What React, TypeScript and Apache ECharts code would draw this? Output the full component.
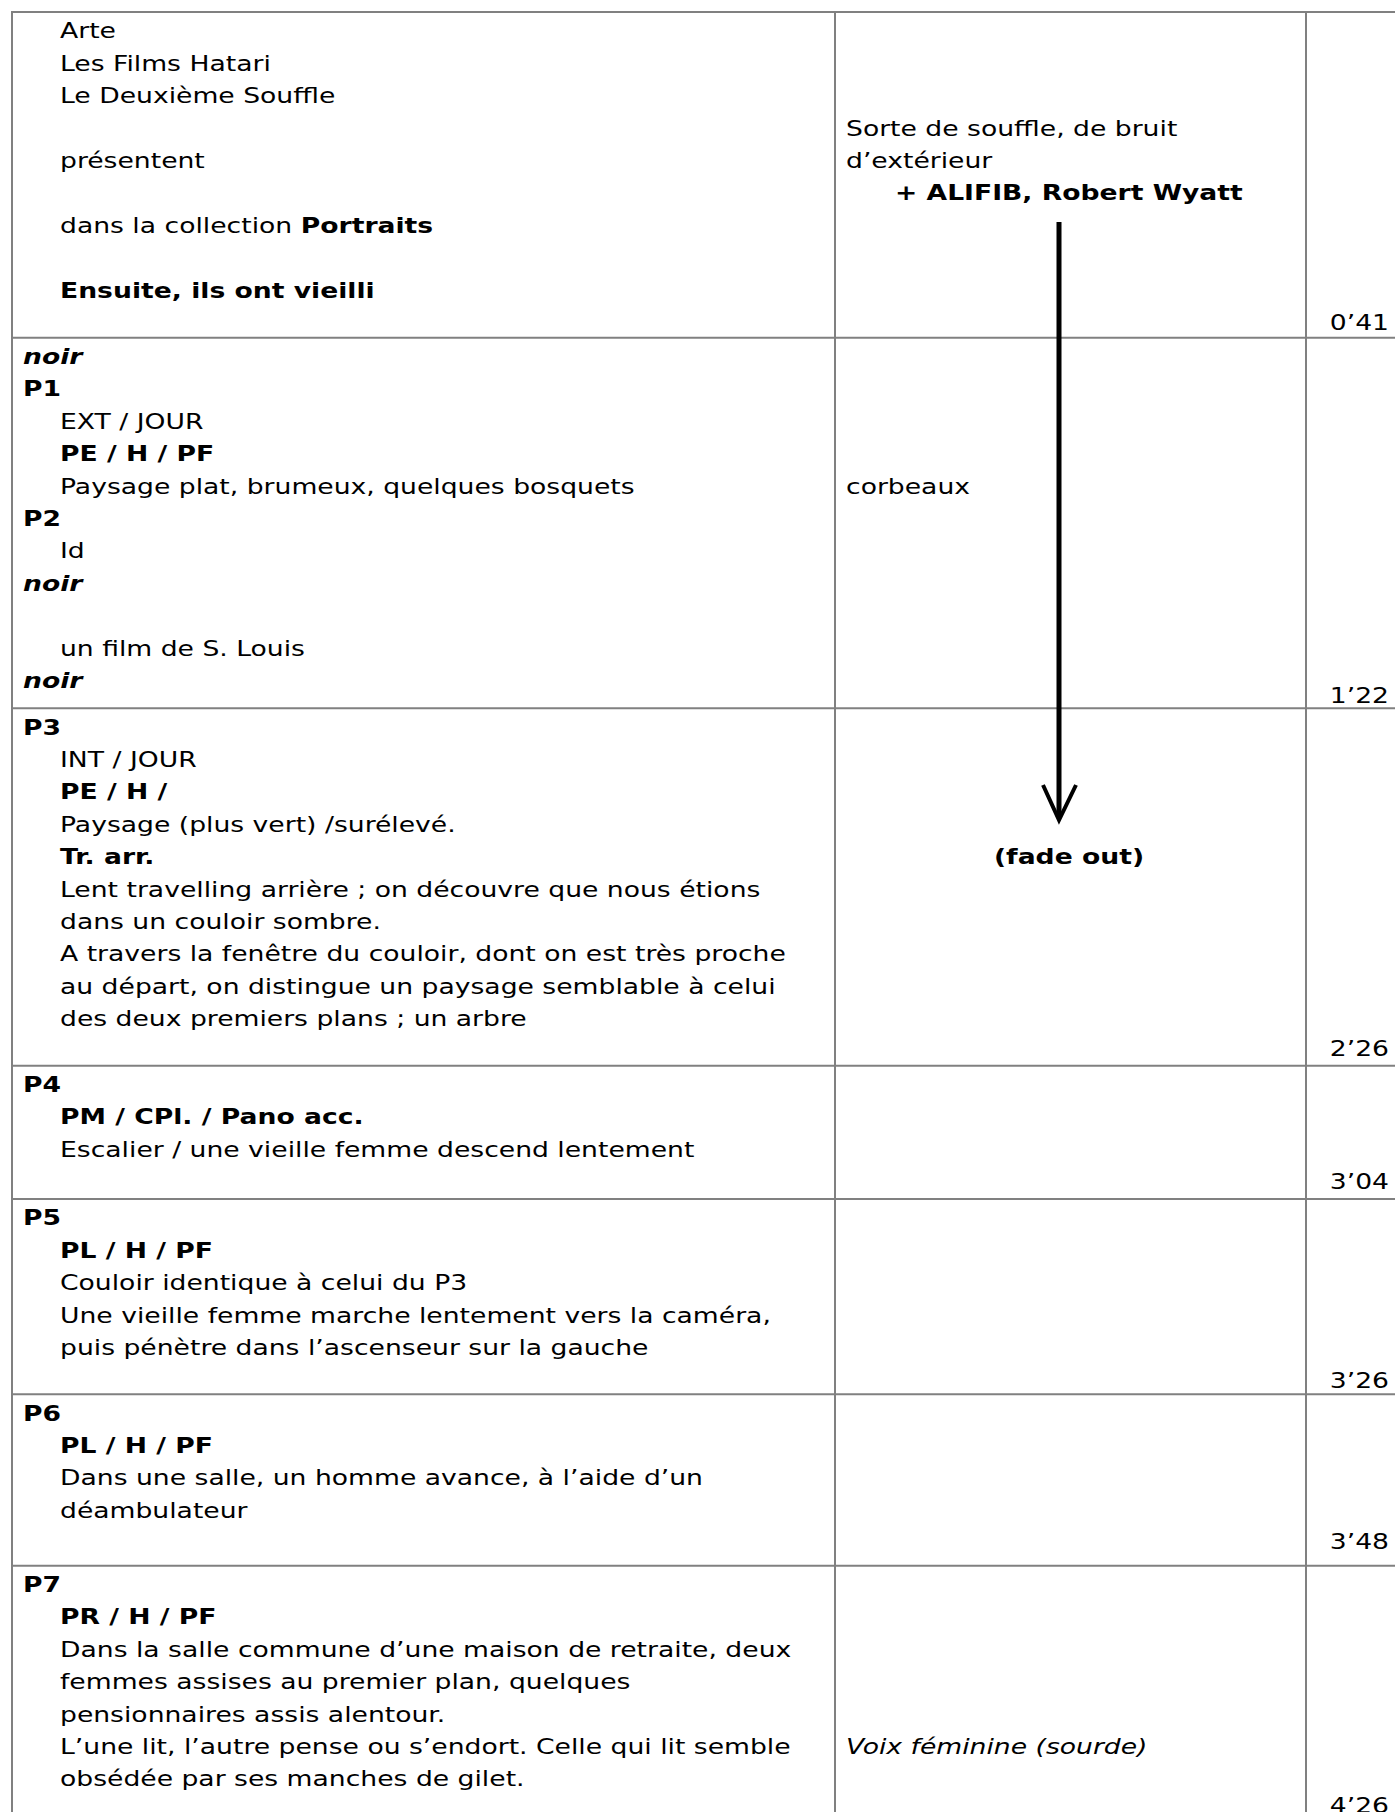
import React, { useEffect, useRef } from "react";
import * as echarts from "echarts";

// ---------- DATA ----------
// column 1 lines per row: [text, indented(1/0), style]
const row0Desc: [string, number, string][] = [
  ["Arte", 1, "n"],
  ["Les Films Hatari", 1, "n"],
  ["Le Deuxième Souffle", 1, "n"],
  ["", 1, "n"],
  ["présentent", 1, "n"],
  ["", 1, "n"],
  ["dans la collection {b|Portraits}", 1, "n"],
  ["", 1, "n"],
  ["Ensuite, ils ont vieilli", 1, "b"],
];
const row1Desc: [string, number, string][] = [
  ["noir", 0, "bi"],
  ["P1", 0, "b"],
  ["EXT / JOUR", 1, "n"],
  ["PE / H / PF", 1, "b"],
  ["Paysage plat, brumeux, quelques bosquets", 1, "n"],
  ["P2", 0, "b"],
  ["Id", 1, "n"],
  ["noir", 0, "bi"],
  ["", 0, "n"],
  ["un film de S. Louis", 1, "n"],
  ["noir", 0, "bi"],
];
const row2Desc: [string, number, string][] = [
  ["P3", 0, "b"],
  ["INT / JOUR", 1, "n"],
  ["PE / H /", 1, "b"],
  ["Paysage (plus vert) /surélevé.", 1, "n"],
  ["Tr. arr.", 1, "b"],
  ["Lent travelling arrière ; on découvre que nous étions", 1, "n"],
  ["dans un couloir sombre.", 1, "n"],
  ["A travers la fenêtre du couloir, dont on est très proche", 1, "n"],
  ["au départ, on distingue un paysage semblable à celui", 1, "n"],
  ["des deux premiers plans ; un arbre", 1, "n"],
];
const row3Desc: [string, number, string][] = [
  ["P4", 0, "b"],
  ["PM / CPl. / Pano acc.", 1, "b"],
  ["Escalier / une vieille femme descend lentement", 1, "n"],
];
const row4Desc: [string, number, string][] = [
  ["P5", 0, "b"],
  ["PL / H / PF", 1, "b"],
  ["Couloir identique à celui du P3", 1, "n"],
  ["Une vieille femme marche lentement vers la caméra,", 1, "n"],
  ["puis pénètre dans l’ascenseur sur la gauche", 1, "n"],
];
const row5Desc: [string, number, string][] = [
  ["P6", 0, "b"],
  ["PL / H / PF", 1, "b"],
  ["Dans une salle, un homme avance, à l’aide d’un", 1, "n"],
  ["déambulateur", 1, "n"],
];
const row6Desc: [string, number, string][] = [
  ["P7", 0, "b"],
  ["PR / H / PF", 1, "b"],
  ["Dans la salle commune d’une maison de retraite, deux", 1, "n"],
  ["femmes assises au premier plan, quelques", 1, "n"],
  ["pensionnaires assis alentour.", 1, "n"],
  ["L’une lit, l’autre pense ou s’endort. Celle qui lit semble", 1, "n"],
  ["obsédée par ses manches de gilet.", 1, "n"],
];
const descRows = [row0Desc, row1Desc, row2Desc, row3Desc, row4Desc, row5Desc, row6Desc];

// column 2 (sound): [row, line, text, indented, style]
const soundLines: [number, number, string, number, string][] = [
  [0, 3, "Sorte de souffle, de bruit", 0, "n"],
  [0, 4, "d’extérieur", 0, "n"],
  [0, 5, "+ ALIFIB, Robert Wyatt", 1, "b"],
  [1, 4, "corbeaux", 0, "n"],
  [6, 5, "Voix féminine (sourde)", 0, "i"],
];
const fadeLabel = "(fade out)";
const fadeRowLine: [number, number] = [2, 4];

// column 3 timecodes
const timecodes = ["0’41", "1’22", "2’26", "3’04", "3’26", "3’48", "4’26"];

// ---------- LAYOUT ----------
const W = 1395;
const H = 1812;
const rowTops = [12, 337.7, 708.3, 1065.7, 1199, 1394.3, 1565.7];
const tableBottom = 1830;
const colX = [12, 835, 1306];
const tableRight = 1420;
const firstLine = 18.7;
const pitch = 32.4;
const x0 = 23;
const xIndent = 60;
const col2X = 846;
const col2Indent = 895;
const fadeX = 1069;
const timeRight = 1389;
const timeY = [322.5, 695.8, 1048.5, 1181.7, 1380, 1541, 1805];
const FONT = "'DejaVu Sans', Verdana, sans-serif";
const FS = 22;
const SX = 1.21;
const GRID = "#808080";

function styleOf(code: string) {
  return {
    fontWeight: code.indexOf("b") >= 0 ? "bold" : "normal",
    fontStyle: code.indexOf("i") >= 0 ? "italic" : "normal",
  };
}

function textEl(x: number, y: number, text: string, code: string, align = "left") {
  const s = styleOf(code);
  return {
    type: "text",
    x,
    y,
    scaleX: SX,
    silent: true,
    style: {
      text,
      fill: "#000",
      fontFamily: FONT,
      fontSize: FS,
      fontWeight: s.fontWeight,
      fontStyle: s.fontStyle,
      align,
      textAlign: align,
      verticalAlign: "middle",
      textVerticalAlign: "middle",
      rich: {
        b: { fontFamily: FONT, fontSize: FS, fontWeight: "bold", fill: "#000" },
      },
    },
  };
}

function lineEl(x1: number, y1: number, x2: number, y2: number, stroke: string, w: number) {
  return {
    type: "line",
    silent: true,
    shape: { x1, y1, x2, y2 },
    style: { stroke, lineWidth: w },
  };
}

function buildElements() {
  const els: any[] = [];
  // grid lines
  rowTops.forEach((y) => els.push(lineEl(colX[0], y, tableRight, y, GRID, 2)));
  colX.forEach((x) => els.push(lineEl(x, rowTops[0] - 1, x, tableBottom, GRID, 2)));

  // description column
  descRows.forEach((rows, r) => {
    rows.forEach(([t, ind, code], i) => {
      if (!t) return;
      const y = rowTops[r] + firstLine + pitch * i;
      els.push(textEl(ind ? xIndent : x0, y, t, code));
    });
  });

  // sound column
  soundLines.forEach(([r, i, t, ind, code]) => {
    const y = rowTops[r] + firstLine + pitch * i;
    els.push(textEl(ind ? col2Indent : col2X, y, t, code));
  });
  els.push(
    textEl(fadeX, rowTops[fadeRowLine[0]] + firstLine + pitch * fadeRowLine[1], fadeLabel, "b", "center")
  );

  // arrow
  els.push(lineEl(1059, 222, 1059, 818, "#000", 5));
  els.push({
    type: "polyline",
    silent: true,
    shape: { points: [[1043, 785], [1059, 820], [1076, 785]] },
    style: { stroke: "#000", lineWidth: 4, fill: "none", lineJoin: "miter" },
  });

  // timecodes
  timecodes.forEach((t, r) => {
    els.push(textEl(timeRight, timeY[r], t, "n", "right"));
  });
  return els;
}

export default function App() {
  const ref = useRef<HTMLDivElement>(null);
  useEffect(() => {
    if (!ref.current) return;
    const chart = echarts.init(ref.current, undefined, { renderer: "svg" });
    chart.setOption({
      animation: false,
      backgroundColor: "#fff",
      graphic: { elements: buildElements() },
    });
    return () => chart.dispose();
  }, []);
  return (
    <div
      ref={ref}
      style={{ position: "absolute", left: 0, top: 0, width: W, height: H, background: "#fff" }}
    />
  );
}
